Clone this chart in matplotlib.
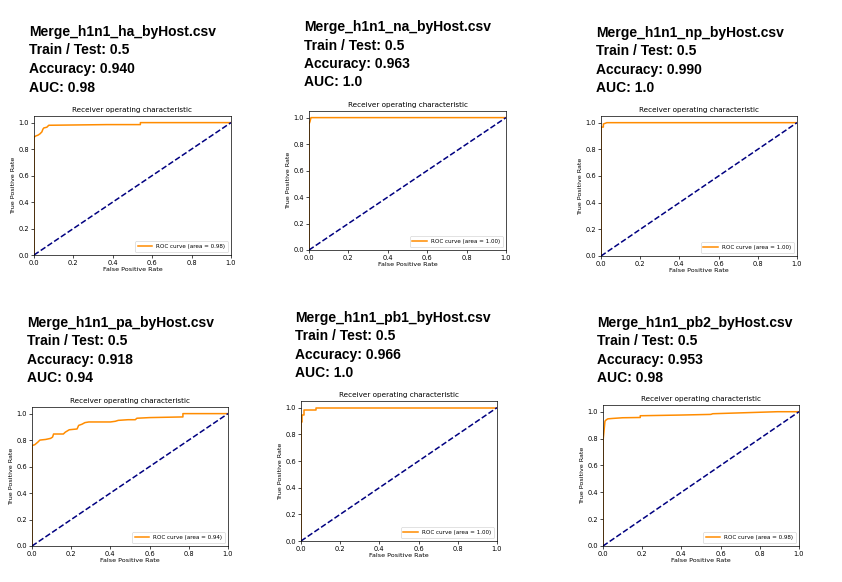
import matplotlib as mpl
mpl.use('Agg')
import matplotlib.pyplot as plt

W, H = 842, 582

# one entry per csv file
files = ["Merge_h1n1_ha_byHost.csv", "Merge_h1n1_na_byHost.csv", "Merge_h1n1_np_byHost.csv",
         "Merge_h1n1_pa_byHost.csv", "Merge_h1n1_pb1_byHost.csv", "Merge_h1n1_pb2_byHost.csv"]
split = ["0.5", "0.5", "0.5", "0.5", "0.5", "0.5"]
accuracy = ["0.940", "0.963", "0.990", "0.918", "0.966", "0.953"]
auc_text = ["0.98", "1.0", "1.0", "0.94", "1.0", "0.98"]
auc_legend = [0.98, 1.00, 1.00, 0.94, 1.00, 0.98]

fpr_ha = [0, 0, 0.01, 0.02, 0.03, 0.04, 0.045, 0.05, 0.065, 0.075, 0.37, 0.54, 0.54, 1.0]
tpr_ha = [0, 0.89, 0.90, 0.905, 0.915, 0.93, 0.95, 0.96, 0.965, 0.98, 0.985, 0.985, 1.0, 1.0]

fpr_na = [0, 0, 0.005, 0.01, 1.0]
tpr_na = [0, 0.95, 0.97, 1.0, 1.0]

fpr_np = [0, 0, 0.012, 0.012, 0.03, 1.0]
tpr_np = [0, 0.967, 0.967, 0.99, 1.0, 1.0]

fpr_pa = [0, 0, 0.014, 0.03, 0.04, 0.07, 0.095, 0.105, 0.11, 0.16, 0.17, 0.19, 0.23, 0.238,
          0.255, 0.27, 0.29, 0.40, 0.425, 0.44, 0.49, 0.527, 0.535, 0.60, 0.77, 0.77, 1.0]
tpr_pa = [0, 0.759, 0.765, 0.785, 0.80, 0.805, 0.813, 0.823, 0.846, 0.846, 0.86, 0.878, 0.884, 0.911,
          0.92, 0.932, 0.937, 0.937, 0.942, 0.949, 0.954, 0.954, 0.965, 0.97, 0.975, 1.0, 1.0]

fpr_pb1 = [0, 0, 0.005, 0.005, 0.017, 0.017, 0.078, 0.078, 1.0]
tpr_pb1 = [0, 0.89, 0.89, 0.945, 0.945, 0.983, 0.983, 1.0, 1.0]

fpr_pb2 = [0, 0, 0.005, 0.01, 0.017, 0.025, 0.05, 0.1, 0.19, 0.19, 0.39, 0.55, 0.56, 0.89, 1.0]
tpr_pb2 = [0, 0.78, 0.853, 0.93, 0.94, 0.947, 0.95, 0.955, 0.957, 0.97, 0.975, 0.98, 0.985, 1.0, 1.0]

fprs = [fpr_ha, fpr_na, fpr_np, fpr_pa, fpr_pb1, fpr_pb2]
tprs = [tpr_ha, tpr_na, tpr_np, tpr_pa, tpr_pb1, tpr_pb2]

# pixel boxes (left, top, right, bottom) for the axes
boxes = [(34, 116, 231, 255), (309, 111, 506, 250), (601, 116, 797, 256),
         (32, 407, 228, 546), (301, 401, 497, 541), (603, 405, 799, 546)]
# text block: left x, baseline of first line
text_pos = [(29, 36), (304, 31), (596, 36.7), (26.7, 326.7), (295, 321.7), (597, 326.7)]
line_gap = 18.5


def px_axes(fig, box):
    l, t, r, b = box
    return fig.add_axes([l / W, 1 - b / H, (r - l) / W, (b - t) / H])


fig = plt.figure(figsize=(W / 100, H / 100), dpi=100)

for i in range(6):
    ax = px_axes(fig, boxes[i])
    ax.plot(fprs[i], tprs[i], color='darkorange', lw=1.1,
            label='ROC curve (area = %0.2f)' % auc_legend[i])
    ax.plot([0, 1], [0, 1], color='navy', lw=1.1, linestyle='--')
    ax.set_xlim([0.0, 1.0])
    ax.set_ylim([0.0, 1.05])
    ax.set_xlabel('False Positive Rate', fontsize=4.6, labelpad=1)
    ax.set_ylabel('True Positive Rate', fontsize=4.6, labelpad=2)
    ax.set_title('Receiver operating characteristic', fontsize=5.2, pad=3)
    ax.tick_params(labelsize=4.8, length=2, width=0.5, pad=1.5)
    for s in ax.spines.values():
        s.set_linewidth(0.5)
    ax.legend(loc="lower right", fontsize=4.1, handlelength=2.5, borderpad=0.5,
              framealpha=1, fancybox=True).get_frame().set_linewidth(0.4)

    x0, y0 = text_pos[i]
    lines = [files[i], "Train / Test: " + split[i], "Accuracy: " + accuracy[i], "AUC: " + auc_text[i]]
    for k, line in enumerate(lines):
        fig.text(x0 / W, 1 - (y0 + k * line_gap) / H, line, fontsize=10,
                 fontweight='bold', family='Liberation Sans', va='baseline', ha='left')

fig.savefig('out.png', dpi=100)
